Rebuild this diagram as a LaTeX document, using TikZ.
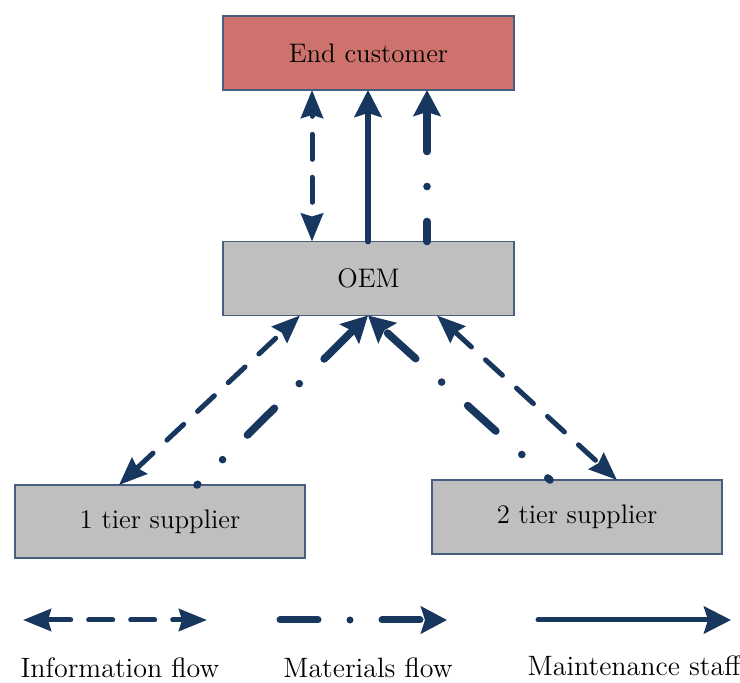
\documentclass[tikz,border=0pt]{standalone}
\usetikzlibrary{calc,arrows.meta}
\definecolor{arrowblue}{RGB}{23,55,94}
\definecolor{boxline}{RGB}{72,94,128}
\definecolor{custred}{RGB}{205,114,108}
\definecolor{boxgray}{RGB}{191,191,191}

\tikzset{
  box/.style={draw=boxline, line width=0.7pt, inner sep=0pt, outer sep=0pt,
    minimum width=145.5pt, minimum height=37pt, font=\fontsize{13.4}{15}\selectfont},
  info/.style={arrowblue, line width=2.5pt, line cap=round,
    dash pattern=on 11.5pt off 9.5pt,
    arrows={Stealth[length=14pt,width=11pt,inset=1.5pt]-Stealth[length=14pt,width=11pt,inset=1.5pt]}},
  material/.style={arrowblue, line width=3.8pt, line cap=round,
    dash pattern=on 19pt off 17.5pt on 0pt off 17.5pt,
    arrows={-Stealth[length=13pt,width=13.5pt,inset=2pt]}},
  staff/.style={arrowblue, line width=2.8pt, line cap=round,
    arrows={-Stealth[length=13.5pt,width=13.5pt,inset=2pt]}},
  legend/.style={font=\fontsize{14}{16}\selectfont}
}

\begin{document}
\begin{tikzpicture}[x=0.5pt, y=-0.5pt]
\useasboundingbox (0,0) rectangle (740,683);

% boxes
\node[box, fill=custred] (ec) at (368.5,53) {End customer};
\node[box, fill=boxgray] (oem) at (368.5,278.5) {OEM};
\node[box, fill=boxgray, minimum width=145pt, minimum height=36.5pt] (t1) at (160,521.5) {1 tier supplier};
\node[box, fill=boxgray, minimum width=145pt] (t2) at (577,517) {2 tier supplier};

% arrows OEM - end customer
\draw[info, dash pattern=on 12.5pt off 9pt, dash phase=13.75pt] ($(oem.north west)+(89,0)$) -- ($(ec.south west)+(89,0)$);
\draw[staff] ($(oem.north west)+(145,0)$) -- ($(ec.south west)+(145,0)$);
\draw[material, dash phase=9pt] ($(oem.north west)+(204,0)$) -- ($(ec.south west)+(204,0)$);

% arrows suppliers - OEM
\draw[info] ($(t1.north west)+(104,0)$) -- ($(oem.south west)+(77,0)$);
\draw[material, dash phase=18.5pt] ($(t1.north west)+(182,0)$) -- ($(oem.south west)+(145,0)$);
\draw[material, dash phase=17.5pt] ($(t2.north west)+(118,0)$) -- ($(oem.south west)+(145,0)$);
\draw[info] ($(oem.south west)+(214,0)$) -- ($(t2.north west)+(185,0)$);

% legend
\coordinate (li1) at (23,620);
\coordinate (li2) at (207,620);
\coordinate (lm1) at (280,620);
\coordinate (lm2) at (447,620);
\coordinate (ls1) at (538,620);
\coordinate (ls2) at (731,620);
\draw[info, dash pattern=on 12pt off 9pt] (li1) -- (li2);
\draw[material, line width=3.5pt, dash pattern=on 19pt off 16pt on 0pt off 16pt] (lm1) -- (lm2);
\draw[staff, line width=2.5pt] (ls1) -- (ls2);
\node[legend] (infolbl) at (120,668) {Information flow};
\node[legend] (matlbl) at (368,668) {Materials flow};
\node[legend] (stafflbl) at (634,666) {Maintenance staff};
\end{tikzpicture}
\end{document}
